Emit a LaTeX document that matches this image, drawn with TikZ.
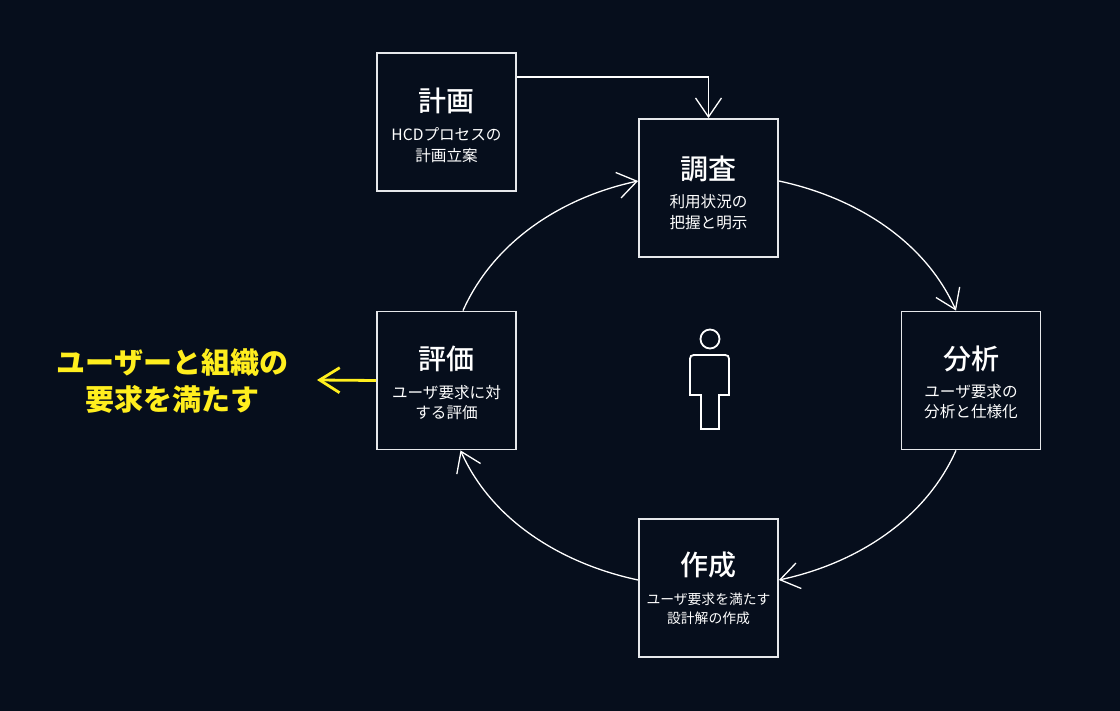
\documentclass[tikz,border=0pt]{standalone}
\usepackage{fontspec}
\setmainfont{Noto Sans CJK JP}
\newfontfamily\titlefont{Noto Sans CJK JP}[UprightFont=* Medium]
\usetikzlibrary{arrows.meta}
\definecolor{bg}{HTML}{060E1C}
\definecolor{edge}{HTML}{E6E8EB}
\definecolor{goalyellow}{HTML}{FFEE1E}
\tikzset{
  stepbox/.style={draw=edge, fill=bg, line width=1.8pt, minimum width=139pt, minimum height=138pt, inner sep=0pt},
  titletext/.style={text=white, font=\titlefont\fontsize{28}{32}\selectfont, inner sep=0pt},
  subtext/.style={text=white, font=\fontsize{15.6}{20.5}\selectfont, align=center, inner sep=0pt},
  smallsub/.style={subtext, font=\fontsize{13.8}{19}\selectfont},
  cyc/.style={draw=white, line width=1.3pt, -{Straight Barb[length=19pt,width=26pt]}, looseness=0.9},
  goaltext/.style={text=goalyellow, font=\bfseries\fontsize{29}{37}\selectfont, align=center, inner sep=0pt},
  goalarrow/.style={draw=goalyellow, line width=2.8pt, -{Straight Barb[length=20pt,width=25pt]}},
  person/.style={draw=white, line width=1.8pt}
}
\begin{document}
\begin{tikzpicture}[x=1pt,y=-1pt]
\fill[bg] (0,0) rectangle (1120,711);
\useasboundingbox (0,0) rectangle (1120,711);

% boxes
\node[stepbox] (keikaku) at (446.5,122) {};
\node[stepbox] (chosa)   at (708.5,188) {};
\node[stepbox] (hyoka)   at (446.5,380.5) {};
\node[stepbox] (bunseki) at (971,380.5) {};
\node[stepbox] (sakusei) at (708.5,588) {};

% texts
\node[titletext] (keikaku-t) at ([yshift=21pt]keikaku.center) {計画};
\node[subtext]   (keikaku-s) at ([yshift=-23pt]keikaku.center) {HCDプロセスの\\計画立案};
\node[titletext] (chosa-t) at ([yshift=19pt]chosa.center) {調査};
\node[subtext]   (chosa-s) at ([yshift=-24pt]chosa.center) {利用状況の\\把握と明示};
\node[titletext] (hyoka-t) at ([yshift=22pt]hyoka.center) {評価};
\node[subtext]   (hyoka-s) at ([yshift=-22pt]hyoka.center) {ユーザ要求に対\\する評価};
\node[titletext] (bunseki-t) at ([yshift=22pt]bunseki.center) {分析};
\node[subtext]   (bunseki-s) at ([yshift=-21pt]bunseki.center) {ユーザ要求の\\分析と仕様化};
\node[titletext] (sakusei-t) at ([yshift=23pt]sakusei.center) {作成};
\node[smallsub]  (sakusei-s) at ([yshift=-21pt]sakusei.center) {ユーザ要求を満たす\\設計解の作成};

% planning arrow
\draw[cyc] ([yshift=45pt]keikaku.east) -| (chosa.north);

% cycle
\draw[cyc] ([xshift=16.5pt]hyoka.north) to[out=66,in=192] ([yshift=7pt]chosa.west);
\draw[cyc] ([yshift=7pt]chosa.east) to[out=-12,in=114] ([xshift=-15pt]bunseki.north);
\draw[cyc] ([xshift=-15pt]bunseki.south) to[out=-114,in=12] ([yshift=8pt]sakusei.east);
\draw[cyc] ([yshift=8pt]sakusei.west) to[out=168,in=-66] ([xshift=14pt]hyoka.south);

% goal
\node[goaltext] (goal) at (172.5,381) {ユーザーと組織の\\要求を満たす};
\coordinate (goaltip) at (317,380);
\draw[goalarrow] (hyoka.west) -- (goaltip);

% person icon
\draw[person] (710,339) circle (9.5);
\draw[person, line join=miter] (701,429) -- (701,395) -- (690,395) -- (690,363)
  .. controls (690,355) .. (698,355) -- (721,355)
  .. controls (729,355) .. (729,363) -- (729,395) -- (719,395) -- (719,429) -- cycle;
\end{tikzpicture}
\end{document}
